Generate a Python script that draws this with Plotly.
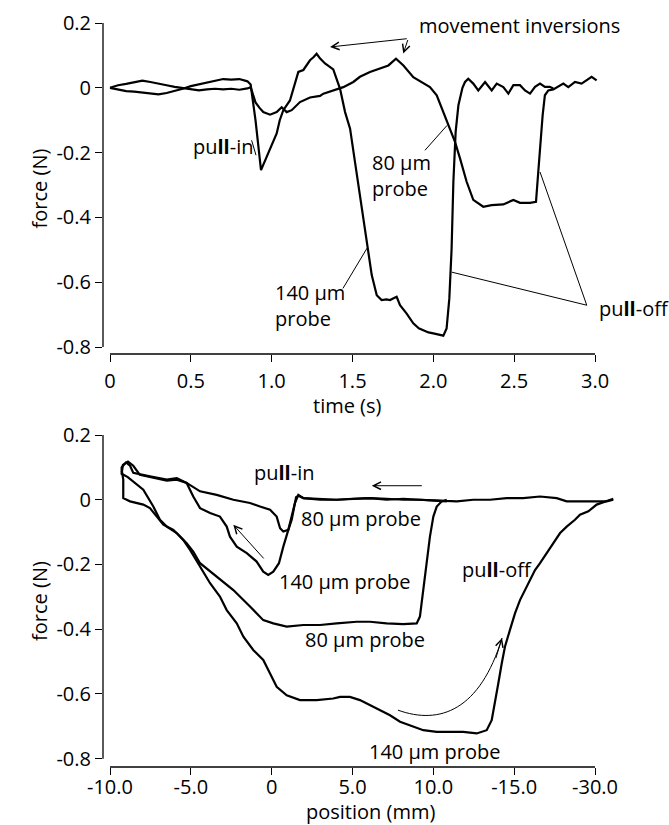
import plotly.graph_objects as go

# ---------------- top panel: force vs time ----------------
time_140 = [0, 0.05, 0.1, 0.15, 0.2, 0.25, 0.3, 0.35, 0.4, 0.45,
            0.5, 0.55, 0.6, 0.65, 0.7, 0.75, 0.8, 0.85, 0.87, 0.9,
            0.934, 0.969, 1.0, 1.031, 1.05, 1.072, 1.113, 1.14, 1.165, 1.196,
            1.237, 1.26, 1.278, 1.30, 1.33, 1.381, 1.40, 1.423, 1.454, 1.485,
            1.515, 1.546, 1.577, 1.598, 1.619, 1.65, 1.68, 1.71, 1.732, 1.76,
            1.773, 1.794, 1.835, 1.876, 1.91, 1.938, 1.97, 2.0, 2.03, 2.062,
            2.082, 2.099, 2.113, 2.124, 2.138, 2.155, 2.18, 2.196, 2.216, 2.247,
            2.278, 2.32, 2.361, 2.392, 2.433, 2.464, 2.495, 2.536, 2.567, 2.598,
            2.629, 2.66, 2.69, 2.72, 2.742]
force_t140 = [0, -0.005, -0.01, -0.012, -0.015, -0.018, -0.02, -0.016, -0.01, -0.003,
              0.005, 0.01, 0.015, 0.022, 0.027, 0.025, 0.027, 0.02, 0.01, -0.1,
              -0.254, -0.213, -0.175, -0.141, -0.1, -0.069, -0.039, 0.01, 0.049, 0.055,
              0.085, 0.095, 0.105, 0.09, 0.075, 0.057, 0.03, -0.003, -0.075, -0.126,
              -0.228, -0.331, -0.434, -0.495, -0.578, -0.64, -0.655, -0.653, -0.655, -0.648,
              -0.645, -0.671, -0.697, -0.727, -0.742, -0.748, -0.755, -0.758, -0.762, -0.765,
              -0.743, -0.65, -0.496, -0.29, -0.136, -0.054, 0.0, 0.018, 0.028, 0.013,
              -0.008, 0.018, -0.008, 0.013, 0.002, -0.018, 0.008, 0.008, -0.008, -0.018,
              0.003, 0.013, 0.003, 0.003, -0.002]

time_80 = [0, 0.05, 0.1, 0.15, 0.2, 0.25, 0.3, 0.35, 0.4, 0.45,
           0.5, 0.55, 0.6, 0.65, 0.7, 0.75, 0.8, 0.85, 0.87, 0.9,
           0.925, 0.948, 0.99, 1.031, 1.062, 1.093, 1.124, 1.175, 1.237, 1.299,
           1.32, 1.381, 1.443, 1.505, 1.546, 1.608, 1.67, 1.722, 1.769, 1.815,
           1.876, 1.938, 1.979, 2.021, 2.062, 2.103, 2.134, 2.165, 2.206, 2.247,
           2.309, 2.36, 2.433, 2.495, 2.536, 2.598, 2.635, 2.649, 2.66, 2.676,
           2.69, 2.711, 2.742, 2.763, 2.804, 2.835, 2.876, 2.917, 2.948, 2.979,
           3.01]
force_t80 = [0, 0.008, 0.012, 0.018, 0.022, 0.018, 0.012, 0.008, 0.003, 0.0,
             -0.003, -0.008, -0.005, -0.003, -0.005, -0.003, -0.006, -0.002, 0.002, -0.045,
             -0.062, -0.075, -0.083, -0.075, -0.06, -0.075, -0.069, -0.044, -0.03, -0.025,
             -0.018, -0.008, 0.002, 0.018, 0.034, 0.049, 0.059, 0.069, 0.09, 0.069,
             0.033, 0.013, 0.002, -0.023, -0.075, -0.126, -0.167, -0.218, -0.29, -0.346,
             -0.367, -0.362, -0.36, -0.346, -0.355, -0.355, -0.352, -0.26, -0.188, -0.085,
             -0.023, -0.008, -0.005, 0.002, 0.013, 0.002, 0.018, 0.013, 0.023, 0.034,
             0.023]

# ---------------- bottom panel: force vs position ----------------
pos_80 = [21.13, 20.72, 19.89, 19.07, 18.25, 17.63, 16.60, 15.56, 14.54, 13.50,
          12.47, 11.45, 10.83, 10.41, 9.17, 8.14, 7.11, 6.08, 4.02, 2.99,
          1.96, 1.65, 1.44, 1.24, 1.03, 0.72, 0.52, 0.31, -0.10, -0.72,
          -1.34, -2.37, -3.40, -4.43, -5.26, -5.87, -6.49, -7.53, -8.56, -8.76,
          -9.01, -9.28, -9.28, -8.9, -7.94, -7.32, -6.91, -6.49, -5.87, -5.26,
          -4.85, -4.43, -3.40, -2.37, -1.34, -0.52, 0.10, 0.93, 1.96, 2.99,
          4.02, 5.26, 6.08, 7.11, 8.14, 8.97, 9.17, 9.38, 9.59, 9.79,
          10.0, 10.21, 10.52, 10.83]
force_p80 = [0.0, -0.005, -0.005, -0.005, -0.005, 0.005, 0.010, 0.005, 0.005, 0.0,
             0.0, -0.005, -0.005, -0.003, 0.0, 0.0, 0.003, 0.005, 0.0, 0.003,
             0.005, 0.015, -0.010, -0.062, -0.093, -0.098, -0.088, -0.052, -0.031, -0.021,
             -0.010, 0.0, 0.015, 0.026, 0.052, 0.067, 0.062, 0.072, 0.083, 0.105,
             0.115, 0.10, 0.08, 0.07, 0.031, -0.021, -0.062, -0.083, -0.103, -0.134,
             -0.160, -0.196, -0.237, -0.279, -0.330, -0.372, -0.382, -0.392, -0.387, -0.387,
             -0.382, -0.377, -0.377, -0.382, -0.384, -0.382, -0.361, -0.279, -0.196, -0.114,
             -0.052, -0.021, -0.005, 0.0]

pos_140 = [10.83, 9.17, 8.14, 7.11, 6.08, 5.0, 4.02, 2.99, 1.96, 1.65,
           1.51, 1.44, 1.24, 1.03, 0.72, 0.45, 0.10, -0.21, -0.52, -0.93,
           -1.54, -2.16, -2.58, -2.78, -3.20, -3.81, -4.43, -4.85, -5.26, -5.87,
           -6.49, -7.53, -8.15, -8.56, -8.89, -9.2, -9.26, -9.18, -9.18, -9.18,
           -8.76, -7.94, -7.53, -7.11, -6.70, -6.08, -5.47, -5.05, -4.43, -3.81,
           -3.20, -2.78, -2.16, -1.75, -1.14, -0.52, -0.10, 0.31, 0.93, 1.75,
           2.78, 3.81, 4.23, 4.84, 5.46, 6.08, 6.70, 7.32, 7.94, 8.56,
           9.38, 10.21, 11.03, 11.85, 12.68, 13.30, 13.61, 13.81, 14.02, 14.23,
           14.43, 14.74, 15.05, 15.36, 15.67, 15.98, 16.29, 16.60, 17.01, 17.42,
           17.84, 18.25, 18.76, 19.07, 19.59, 20.10, 20.72, 21.13]
force_p140 = [-0.005, 0.0, 0.003, 0.0, 0.005, 0.003, 0.0, 0.0, 0.005, 0.012,
              0.008, -0.010, -0.052, -0.093, -0.145, -0.196, -0.222, -0.232, -0.222, -0.191,
              -0.165, -0.145, -0.114, -0.083, -0.052, -0.041, -0.026, 0.010, 0.052, 0.062,
              0.059, 0.071, 0.077, 0.105, 0.118, 0.108, 0.087, 0.062, 0.031, 0.005,
              -0.005, -0.015, -0.026, -0.052, -0.077, -0.093, -0.124, -0.155, -0.207, -0.258,
              -0.299, -0.341, -0.382, -0.423, -0.464, -0.495, -0.537, -0.578, -0.604, -0.619,
              -0.619, -0.614, -0.609, -0.609, -0.619, -0.635, -0.650, -0.666, -0.686, -0.697,
              -0.712, -0.717, -0.717, -0.717, -0.722, -0.712, -0.681, -0.629, -0.567, -0.506,
              -0.454, -0.402, -0.351, -0.310, -0.279, -0.248, -0.217, -0.196, -0.165, -0.134,
              -0.103, -0.083, -0.062, -0.046, -0.036, -0.015, -0.005, 0.003]

# ---------------- ticks ----------------
time_ticks = [0, 0.5, 1.0, 1.5, 2.0, 2.5, 3.0]
time_ticktext = ["0", "0.5", "1.0", "1.5", "2.0", "2.5", "3.0"]
pos_ticks = [-10, -5, 0, 5, 10, 15, 20]
pos_ticktext = ["-10.0", "-5.0", "0", "5.0", "10.0", "-15.0", "-30.0"]
force_ticks = [-0.8, -0.6, -0.4, -0.2, 0, 0.2]
force_ticktext = ["-0.8", "-0.6", "-0.4", "-0.2", "0", "0.2"]

W, H = 669, 825
ML, MR, MT, MB = 103, 49, 23, 58
PH = H - MT - MB
FONT = dict(family="Open Sans", size=20, color="black")
LINE = dict(color="black", width=2.2)
THIN = dict(color="black", width=1)
AXW = 1.3

fig = go.Figure()
fig.add_trace(go.Scatter(x=time_80, y=force_t80, mode="lines", line=LINE, xaxis="x", yaxis="y"))
fig.add_trace(go.Scatter(x=time_140, y=force_t140, mode="lines", line=LINE, xaxis="x", yaxis="y"))
fig.add_trace(go.Scatter(x=pos_80, y=force_p80, mode="lines", line=LINE, xaxis="x2", yaxis="y2"))
fig.add_trace(go.Scatter(x=pos_140, y=force_p140, mode="lines", line=LINE, xaxis="x2", yaxis="y2"))

top_dom = [1 - (354 - MT) / PH, 1.0]
bot_dom = [0.0, 1 - (435 - MT) / PH]

common = dict(showline=False, showgrid=False, zeroline=False, ticks="outside",
              ticklen=7, tickwidth=AXW, tickcolor="black", tickfont=FONT,
              automargin=False)

fig.update_layout(
    width=W, height=H, margin=dict(l=ML, r=MR, t=MT, b=MB, autoexpand=False),
    plot_bgcolor="white", paper_bgcolor="white", showlegend=False, font=FONT,
    xaxis=dict(domain=[0, 1], range=[-0.0433, 3.1546], anchor="y",
               tickvals=time_ticks, ticktext=time_ticktext,
               ticklabelstandoff=2, **common),
    yaxis=dict(domain=top_dom, range=[-0.8216, 0.2], anchor="x",
               tickvals=force_ticks, ticktext=force_ticktext,
               title=dict(text="force (N)", font=FONT, standoff=3), **common),
    xaxis2=dict(domain=[0, 1], range=[-10.433, 21.546], anchor="y2",
                tickvals=pos_ticks, ticktext=pos_ticktext,
                ticklabelstandoff=-5, **common),
    yaxis2=dict(domain=bot_dom, range=[-0.8257, 0.2], anchor="x2",
                tickvals=force_ticks, ticktext=force_ticktext,
                title=dict(text="force (N)", font=FONT, standoff=3), **common),
)

# detached axis lines
shapes = [
    dict(type="line", xref="x", yref="paper", x0=time_ticks[0], x1=time_ticks[-1],
         y0=top_dom[0], y1=top_dom[0], line=dict(color="black", width=AXW)),
    dict(type="line", xref="paper", yref="y", x0=0, x1=0,
         y0=force_ticks[0], y1=force_ticks[-1], line=dict(color="black", width=AXW)),
    dict(type="line", xref="x2", yref="paper", x0=pos_ticks[0], x1=pos_ticks[-1],
         y0=bot_dom[0], y1=bot_dom[0], line=dict(color="black", width=AXW)),
    dict(type="line", xref="paper", yref="y2", x0=0, x1=0,
         y0=force_ticks[0], y1=force_ticks[-1], line=dict(color="black", width=AXW)),
]

# leader lines, top panel
leaders_top = [
    (1.441, -0.619, 1.590, -0.495),
    (1.948, -0.193, 2.085, -0.116),
    (2.949, -0.671, 2.114, -0.569),
    (2.949, -0.671, 2.660, -0.260),
    (0.876, -0.162, 0.903, -0.208),
]
for x0, y0, x1, y1 in leaders_top:
    shapes.append(dict(type="line", xref="x", yref="y", x0=x0, y0=y0, x1=x1, y1=y1, line=THIN))

# curved arrow, bottom panel
shapes.append(dict(type="path", xref="x2", yref="y2",
                   path="M 7.81,-0.650 C 10.41,-0.697 12.89,-0.650 14.25,-0.427",
                   line=THIN))
fig.update_layout(shapes=shapes)


def label(text, x, y, xr, yr, xanchor="left"):
    fig.add_annotation(text=text, x=x, y=y, xref=xr, yref=yr, showarrow=False,
                       xanchor=xanchor, yanchor="middle", align="left", font=FONT)


def arrow(x, y, ax, ay, xr, yr):
    fig.add_annotation(text="", x=x, y=y, ax=ax, ay=ay, xref=xr, yref=yr,
                       axref=xr, ayref=yr, showarrow=True, arrowhead=5,
                       arrowsize=1.5, arrowwidth=1, arrowcolor="black")


# x-axis titles (placed as in the reference, slightly off-centre)
label("time (s)", 1.469, (MT + PH - 405) / PH, "x", "paper", "center")
label("position (mm)", 6.14, (MT + PH - 811.5) / PH, "x2", "paper", "center")

# top labels
label("pu<b>ll</b>-in", 0.696, -0.180, "x", "y", "center")
label("140 µm<br>probe", 1.008, -0.671, "x", "y")
label("80 µm<br>probe", 1.608, -0.270, "x", "y")
label("movement inversions", 2.53, 0.193, "x", "y", "center")
label("pu<b>ll</b>-off", 3.01, -0.681, "x", "y")
arrow(1.361, 0.126, 1.845, 0.152, "x", "y")
arrow(1.814, 0.1056, 1.845, 0.152, "x", "y")

# bottom labels
label("pu<b>ll</b>-in", 0.76, 0.083, "x2", "y2", "center")
label("80 µm probe", 1.71, -0.057, "x2", "y2")
label("140 µm probe", 0.31, -0.253, "x2", "y2")
label("80 µm probe", 1.96, -0.431, "x2", "y2")
label("140 µm probe", 5.88, -0.779, "x2", "y2")
label("pu<b>ll</b>-off", 11.65, -0.217, "x2", "y2")
arrow(6.19, 0.0433, 9.38, 0.0433, "x2", "y2")
arrow(-2.37, -0.0774, -0.41, -0.186, "x2", "y2")
arrow(14.25, -0.427, 13.84, -0.494, "x2", "y2")

fig.write_html("out.html")
